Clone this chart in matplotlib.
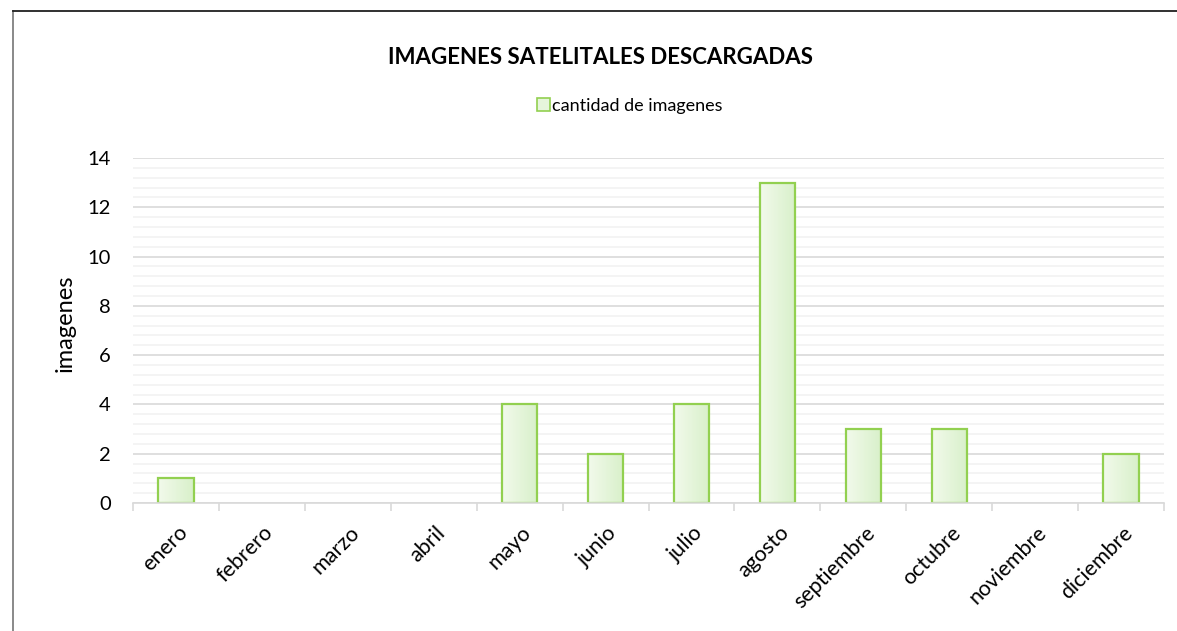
import matplotlib
matplotlib.use('Agg')
import matplotlib.pyplot as plt
import numpy as np
from matplotlib.ticker import MultipleLocator, FixedLocator
from matplotlib.lines import Line2D
from matplotlib.patches import Patch

plt.rcParams['font.family'] = ['Lato', 'DejaVu Sans']

meses = ['enero', 'febrero', 'marzo', 'abril', 'mayo', 'junio', 'julio',
         'agosto', 'septiembre', 'octubre', 'noviembre', 'diciembre']
cantidad = [1, 0, 0, 0, 4, 2, 4, 13, 3, 3, 0, 2]

titulo = 'IMAGENES SATELITALES DESCARGADAS'
etiqueta_y = 'imagenes'
etiqueta_serie = 'cantidad de imagenes'

verde = '#92D050'
W, H = 1177, 631
fig = plt.figure(figsize=(W / 100, H / 100), dpi=100)
ax = fig.add_axes([133 / W, 1 - 503 / H, (1164 - 133) / W, (503 - 158) / H])

x = np.arange(len(meses))
ancho = 0.41

# degradado horizontal dentro de cada barra
grad = np.linspace(0, 1, 64).reshape(1, -1)
cmap = matplotlib.colors.LinearSegmentedColormap.from_list('g', ['#F2FAEC', '#D8F0C9'])
for xi, v in zip(x, cantidad):
    if v <= 0:
        continue
    ax.imshow(grad, cmap=cmap, aspect='auto', interpolation='bicubic',
              extent=(xi - ancho / 2, xi + ancho / 2, 0, v), zorder=2)
    ax.bar(xi, v, width=ancho, facecolor='none', edgecolor=verde, linewidth=1.6, zorder=3)

ax.set_xlim(-0.5, len(meses) - 0.5)
ax.set_ylim(0, 14)
ax.yaxis.set_major_locator(MultipleLocator(2))
ax.yaxis.set_minor_locator(MultipleLocator(0.4))
ax.grid(which='major', axis='y', color='#D9D9D9', linewidth=1.2, zorder=0)
ax.grid(which='minor', axis='y', color='#F2F2F2', linewidth=1.2, zorder=0)
ax.set_axisbelow(True)

for s in ['left', 'right', 'top']:
    ax.spines[s].set_visible(False)
ax.spines['bottom'].set_color('#D9D9D9')
ax.spines['bottom'].set_linewidth(1.2)
ax.spines['bottom'].set_zorder(4)

ax.tick_params(axis='y', which='both', length=0, labelsize=14.5, pad=16, labelcolor='black')
ax.xaxis.set_major_locator(FixedLocator(np.arange(-0.5, len(meses), 1)))
ax.set_xticklabels([])
ax.tick_params(axis='x', which='major', length=6, width=1.2, color='#D9D9D9')
for xi, m in zip(x, meses):
    ax.annotate(m, xy=(xi, 0), xycoords=('data', 'axes fraction'),
                xytext=(1, -14), textcoords='offset points',
                rotation=45, rotation_mode='anchor', ha='right', va='top',
                fontsize=15.5)

ax.set_ylabel(etiqueta_y, fontsize=17)
ax.yaxis.set_label_coords((76 - 133) / (1164 - 133), 0.52)

fig.text(601 / W, 1 - 58 / H, titulo, ha='center', va='center', fontsize=16, fontweight='bold')
leg = fig.legend(handles=[Patch(facecolor='#E6F5DC', edgecolor=verde, linewidth=1.2, label=etiqueta_serie)],
                 loc='center', bbox_to_anchor=(630 / W, 1 - 106 / H), frameon=False,
                 fontsize=13, handlelength=0.7, handleheight=0.7, handletextpad=0.15)

# marco exterior del gráfico
fig.add_artist(Line2D([13 / W, 13 / W], [0, 1 - 11 / H], color='#808080', linewidth=1.3))
fig.add_artist(Line2D([13 / W, 1], [1 - 11 / H, 1 - 11 / H], color='#202020', linewidth=1.3))

fig.savefig('out.png', dpi=100)
